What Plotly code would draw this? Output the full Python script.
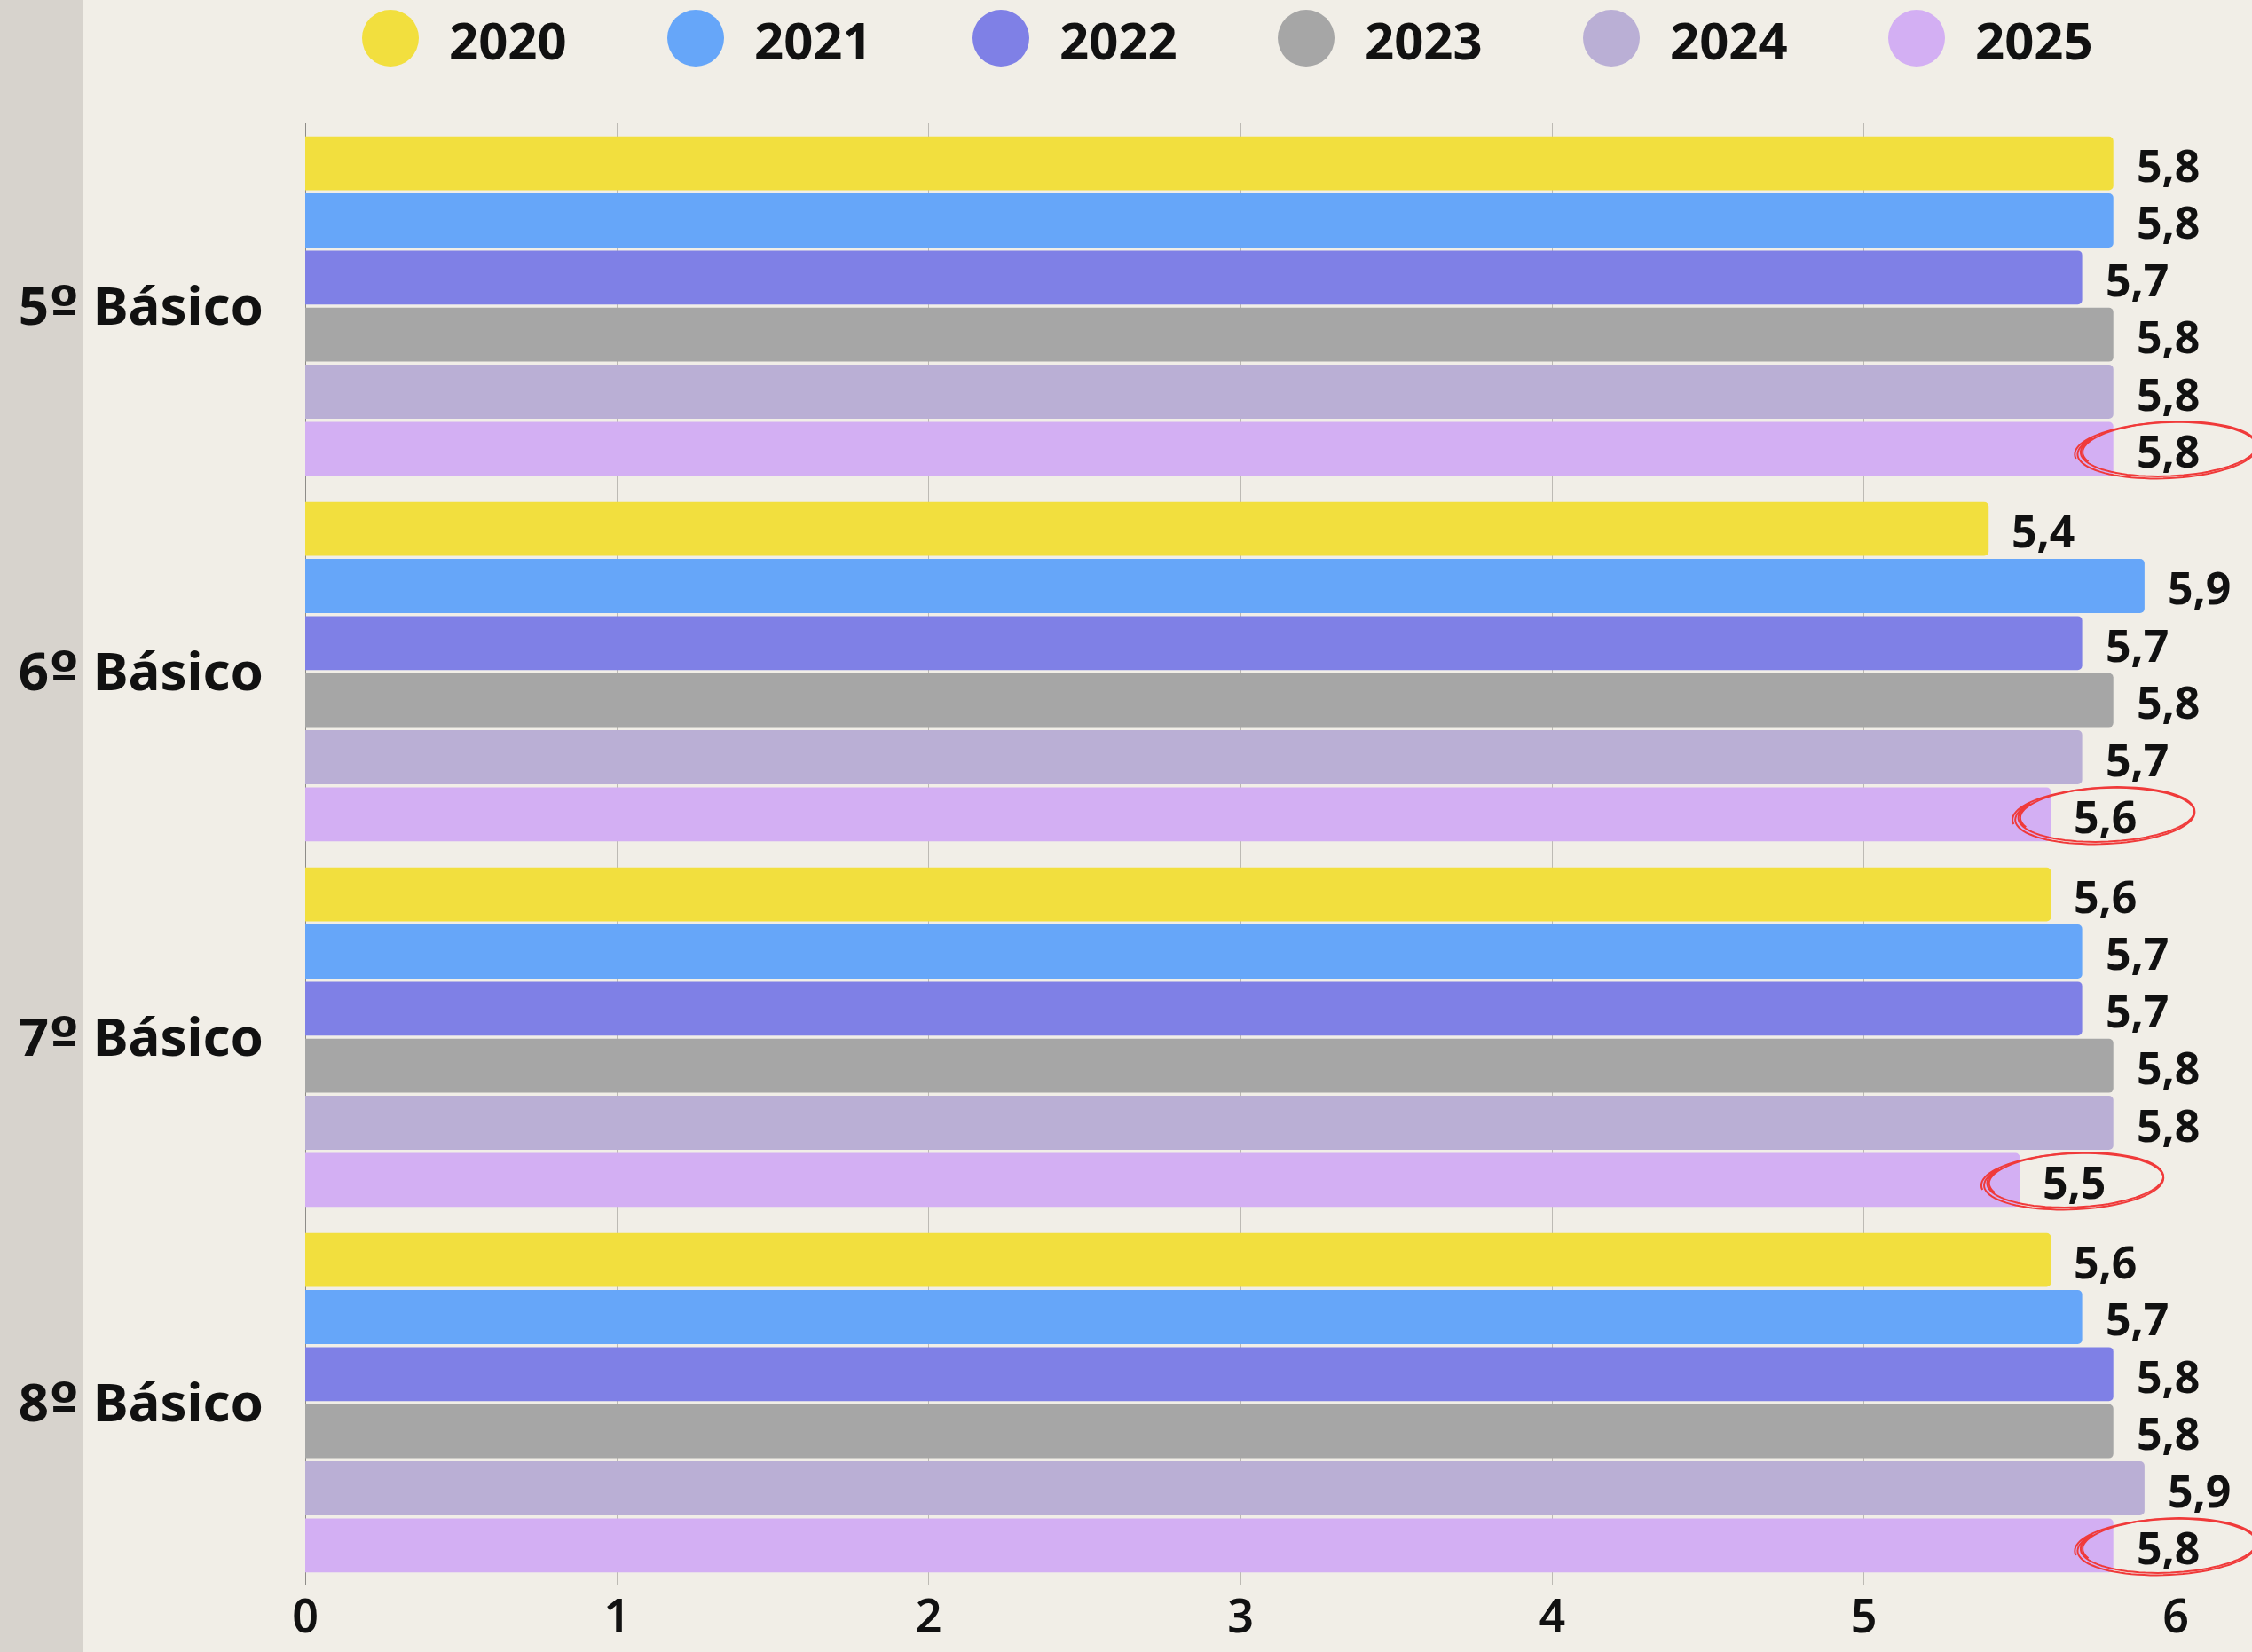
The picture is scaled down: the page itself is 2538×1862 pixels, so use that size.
import math
import plotly.graph_objects as go

# --- data -------------------------------------------------------------
categories = ["5º Básico", "6º Básico", "7º Básico", "8º Básico"]
years = ["2020", "2021", "2022", "2023", "2024", "2025"]
v2020 = [5.8, 5.4, 5.6, 5.6]
v2021 = [5.8, 5.9, 5.7, 5.7]
v2022 = [5.7, 5.7, 5.7, 5.8]
v2023 = [5.8, 5.8, 5.8, 5.8]
v2024 = [5.8, 5.7, 5.8, 5.9]
v2025 = [5.8, 5.6, 5.5, 5.8]
x_ticks = [0, 1, 2, 3, 4, 5, 6]

series = [v2020, v2021, v2022, v2023, v2024, v2025]
colors = ["#F2DF3E", "#66A6F9", "#7F80E6", "#A6A6A6", "#BAAFD5", "#D3AFF3"]

# --- geometry ---------------------------------------------------------
W, H = 2538, 1862
ML, MR, MT, MB = 344, 86, 139, 75
PW, PH = W - ML - MR, H - MT - MB
X_MAX = 6
BARGAP = 0.063
BARGROUPGAP = 0.054
pitch = PH / len(categories)
slot = pitch * (1 - BARGAP) / len(years)

BG = "#F1EEE7"
STRIP = "#D7D3CD"
FONT = "Noto Sans"
INK = "#111111"
LABEL_SHIFT = 24


def px_x(p):
    return (p - ML) / PW


def px_y(p):
    return 1 - (p - MT) / PH


def fmt(v):
    return f"{v:.1f}".replace(".", ",")


def tick_label(cat):
    # ordinal indicator set in a face whose "º" carries the underline bar
    return cat.replace("º", "<span style='font-family:DejaVu Sans'>º</span>")


fig = go.Figure()

for name, vals, col in zip(years, series, colors):
    fig.add_trace(go.Bar(
        y=categories, x=vals, name=name, orientation="h",
        marker=dict(color=col, line=dict(width=0)),
        showlegend=False, hoverinfo="x+name",
    ))

# value labels to the right of each bar
annotations = []
for k, vals in enumerate(series):
    for cat, v in zip(categories, vals):
        annotations.append(dict(
            x=v, y=cat, xref="x", yref="y", text=fmt(v),
            showarrow=False, xanchor="left", yanchor="middle",
            xshift=LABEL_SHIFT, yshift=(2.5 - k) * slot - 2,
            font=dict(family=FONT, size=50, color=INK, weight=700),
        ))

shapes = []
# grey strip on the left edge
shapes.append(dict(type="rect", xref="paper", yref="paper",
                   x0=px_x(-5), x1=px_x(93), y0=-0.2, y1=1.2,
                   fillcolor=STRIP, line=dict(width=0), layer="below"))

# legend: circles + year labels across the top
leg_x0, leg_step, leg_y, leg_r = 440, 344, 43, 32
for i, (name, col) in enumerate(zip(years, colors)):
    cx = leg_x0 + i * leg_step
    shapes.append(dict(type="circle", xref="paper", yref="paper",
                       x0=px_x(cx - leg_r), x1=px_x(cx + leg_r),
                       y0=px_y(leg_y + leg_r), y1=px_y(leg_y - leg_r),
                       fillcolor=col, line=dict(width=0)))
    annotations.append(dict(
        x=px_x(cx + leg_r + 32), y=px_y(leg_y + 2), xref="paper", yref="paper",
        text=name, showarrow=False, xanchor="left", yanchor="middle",
        font=dict(family=FONT, size=58, color=INK, weight=700),
    ))


# hand-drawn red rings around the latest-year values
def ring_path(cx, cy, rx, ry, start, turns, grow, tilt):
    pts = []
    n = 96
    for j in range(n + 1):
        t = start + 2 * math.pi * turns * j / n
        s = 1 + grow * j / n
        x = cx + rx * s * math.cos(t)
        y = cy + ry * s * math.sin(t) + tilt * math.cos(t)
        pts.append((x, y))
    return "M " + " L ".join(f"{x:.1f},{y:.1f}" for x, y in pts)


last = len(years) - 1
n_cat = len(categories)
for i, (cat, v) in enumerate(zip(categories, v2025)):
    anchor_x = v / X_MAX                      # bar end, as fraction of the x range
    anchor_y = 1 - (i + 0.5) / n_cat          # category centre (reversed axis)
    cx = LABEL_SHIFT + 36
    cy = (2.5 - last) * slot - 2
    for (dx, dy, g, s0) in [(0, 0, 0.035, 2.55), (3, 2, -0.025, 2.75)]:
        shapes.append(dict(
            type="path", xref="paper", yref="paper",
            xsizemode="pixel", ysizemode="pixel",
            xanchor=anchor_x, yanchor=anchor_y,
            path=ring_path(cx + dx, cy + dy, 100, 31, s0, 1.12, g, 4),
            line=dict(color="#F03A3A", width=2),
        ))

fig.update_layout(
    width=W, height=H,
    margin=dict(l=ML, r=MR, t=MT, b=MB, pad=0, autoexpand=False),
    paper_bgcolor=BG, plot_bgcolor=BG,
    barmode="group", bargap=BARGAP, bargroupgap=BARGROUPGAP,
    barcornerradius=5,
    showlegend=False,
    annotations=annotations,
    shapes=shapes,
    xaxis=dict(
        range=[0, X_MAX], tickvals=x_ticks, ticktext=[str(t) for t in x_ticks],
        showgrid=True, gridcolor="#BDBAB4", gridwidth=1,
        zeroline=True, zerolinecolor="#8E8C88", zerolinewidth=1,
        showline=False, ticks="", ticklabelstandoff=0, automargin=False,
        tickfont=dict(family=FONT, size=52, color=INK, weight=600),
        fixedrange=True,
    ),
    yaxis=dict(
        autorange="reversed", showgrid=False, zeroline=False, showline=False,
        tickvals=categories, ticktext=[tick_label(c) for c in categories],
        ticks="", ticklabelstandoff=46, automargin=False,
        tickfont=dict(family=FONT, size=60, color=INK, weight=700),
        fixedrange=True,
    ),
)

fig.write_html("out.html")
